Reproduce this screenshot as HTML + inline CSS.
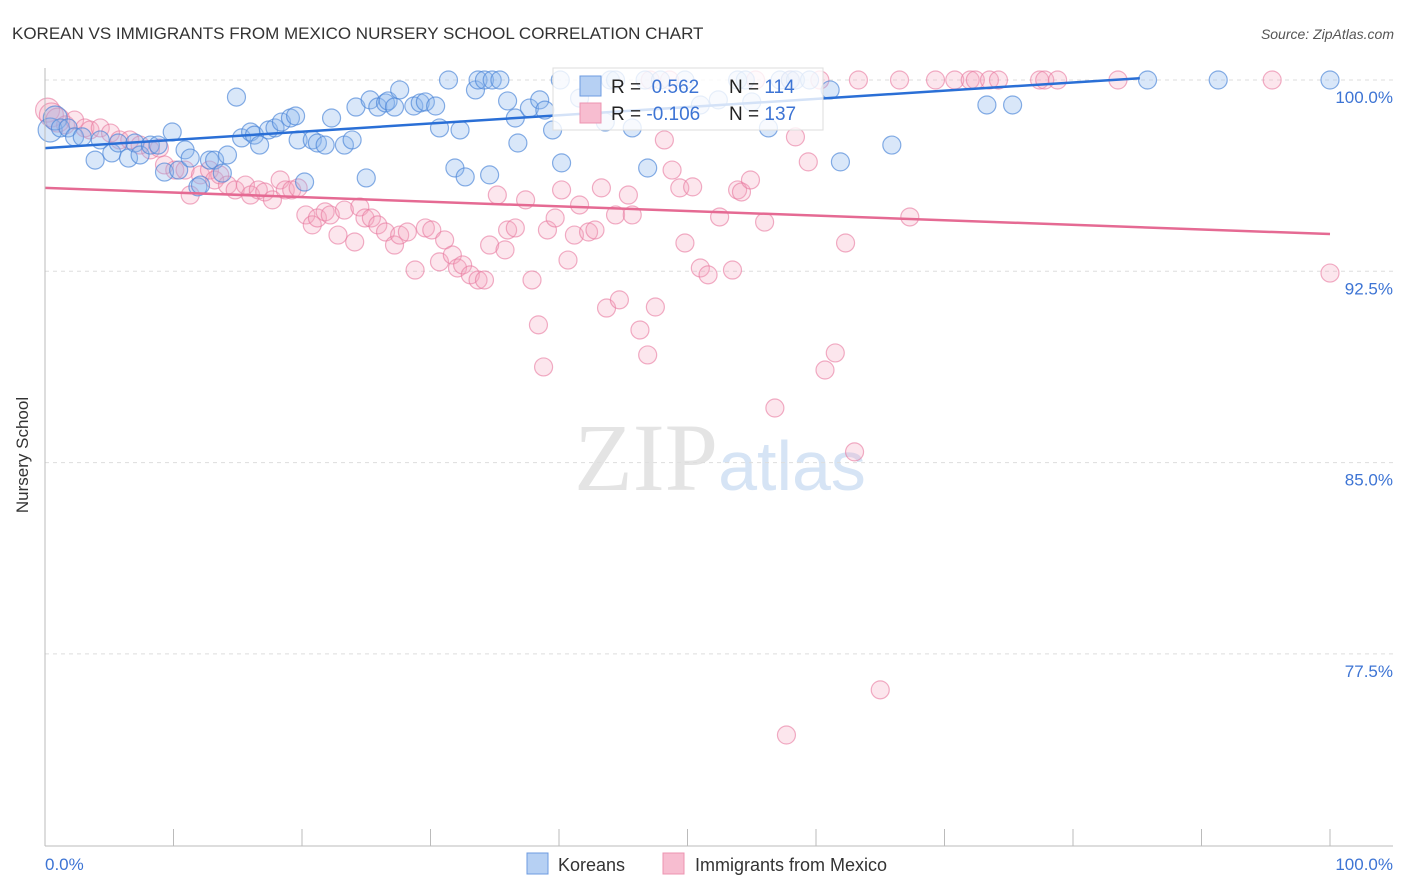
<!DOCTYPE html>
<html><head><meta charset="utf-8"><style>
body{margin:0;background:#fff;font-family:"Liberation Sans",sans-serif;}
svg{display:block}
</style></head><body>
<svg id="c" width="1406" height="892" viewBox="0 0 1406 892">
<text x="12" y="39" font-size="17" fill="#333">KOREAN VS IMMIGRANTS FROM MEXICO NURSERY SCHOOL CORRELATION CHART</text>
<text x="1394" y="39" font-size="14" fill="#555" font-style="italic" text-anchor="end">Source: ZipAtlas.com</text>
<text x="720" y="490" font-size="96" fill="#e4e4e4" text-anchor="middle" font-family="Liberation Serif">ZIP<tspan fill="#d6e4f5" font-family="Liberation Sans" font-size="70">atlas</tspan></text>
<g id="grid"></g><g id="pts"></g><g id="lines"></g>
<line x1="45" y1="68" x2="45" y2="846" stroke="#bbb"/>
<line x1="45" y1="846" x2="1393" y2="846" stroke="#bbb"/>
<text x="28" y="455" font-size="17" fill="#333" text-anchor="middle" transform="rotate(-90 28 455)">Nursery School</text>
<text x="45" y="870" font-size="17" fill="#3d74d4">0.0%</text>
<text x="1393" y="870" font-size="17" fill="#3d74d4" text-anchor="end">100.0%</text>
<g>
<rect x="553" y="68" width="270" height="62" fill="rgba(255,255,255,0.8)" stroke="#ddd"/>
<rect x="580" y="76" width="21" height="20" fill="#b6d0f3" stroke="#6d9be0"/>
<rect x="580" y="103" width="21" height="20" fill="#f7bdd0" stroke="#ec94b1"/>
<text x="611" y="93" font-size="19" fill="#222">R = <tspan fill="#3d74d4">&#160;0.562</tspan><tspan x="729">N = </tspan><tspan fill="#3d74d4">114</tspan></text>
<text x="611" y="120" font-size="19" fill="#222">R = <tspan fill="#3d74d4">-0.106</tspan><tspan x="729">N = </tspan><tspan fill="#3d74d4">137</tspan></text>
</g>
<g>
<rect x="527" y="853" width="21" height="21" fill="#b6d0f3" stroke="#6d9be0"/>
<text x="558" y="871" font-size="18" fill="#333">Koreans</text>
<rect x="663" y="853" width="21" height="21" fill="#f7bdd0" stroke="#ec94b1"/>
<text x="695" y="871" font-size="18" fill="#333">Immigrants from Mexico</text>
</g>
</svg>
<script>
const yTicks=[100,92.5,85,77.5];
const yTickLabels=["100.0%","92.5%","85.0%","77.5%"];
const koreanX=[0.4,0.8,1.2,1.8,2.3,2.9,3.9,4.3,5.2,5.7,6.5,7.0,7.4,8.2,8.8,9.3,9.9,10.4,10.9,11.3,11.9,12.1,12.8,13.2,13.8,14.2,14.9,15.3,16.0,16.3,16.7,17.4,17.9,18.4,19.1,19.5,19.7,20.2,20.8,21.2,21.8,22.3,23.3,23.9,24.2,25.0,25.3,25.9,26.5,26.7,27.2,27.6,28.7,29.2,29.6,30.4,30.7,31.4,31.9,32.3,32.7,33.5,33.7,34.2,34.6,34.8,35.4,36.0,36.6,36.8,37.7,38.5,38.9,39.5,40.1,40.2,41.6,43.6,44.0,44.4,45.7,46.7,46.9,47.9,49.8,51.0,52.4,53.9,54.5,55.0,56.3,57.2,58.0,58.4,59.5,61.1,61.9,65.9,73.3,75.3,85.8,91.3,100];
const koreanY=[98.04,98.51,98.12,98.12,97.77,97.77,96.86,97.65,97.14,97.53,96.94,97.53,97.06,97.45,97.45,96.39,97.96,96.47,97.26,96.94,95.81,95.88,96.86,96.86,96.35,97.06,99.33,97.73,97.96,97.84,97.45,98.04,98.12,98.35,98.51,98.59,97.65,96.00,97.65,97.53,97.45,98.51,97.45,97.65,98.94,96.16,99.22,98.94,99.10,99.18,98.94,99.61,98.98,99.10,99.14,98.98,98.12,100,96.55,98.04,96.20,99.61,100,100,96.28,100,100,99.18,98.51,97.53,98.90,99.22,98.82,98.04,100,96.75,99.29,98.35,100,100,98.12,100,96.55,100,100,99.02,99.22,100,100,99.14,98.12,100,100,100,100,99.61,96.79,97.45,99.02,99.02,100,100,100];
const mexicoX=[0.2,0.5,1.0,1.6,2.3,3.1,3.5,4.3,5.1,5.8,6.6,7.4,8.2,8.9,9.3,10.1,10.9,11.3,12.1,12.8,13.2,13.6,14.2,14.8,15.6,16.0,16.6,17.1,17.7,18.3,18.7,19.2,19.7,20.3,20.8,21.2,21.8,22.2,22.8,23.3,24.1,24.5,24.9,25.4,25.9,26.5,27.2,27.6,28.2,28.8,29.6,30.1,30.7,31.1,31.7,32.1,32.5,33.1,33.7,34.2,34.6,35.2,35.8,36.0,36.6,37.4,37.9,38.4,38.8,39.1,39.7,40.2,40.7,41.2,41.6,42.3,42.8,43.3,43.7,44.4,44.7,45.4,45.7,46.3,46.9,47.5,48.2,48.8,49.4,49.8,50.4,51.0,51.6,52.5,53.5,53.9,54.2,54.9,56.0,56.8,57.7,58.4,59.4,60.7,61.5,62.3,63.0,63.3,65.0,66.5,67.3,69.3,70.8,72.0,72.4,73.5,74.2,77.4,77.8,78.8,83.5,95.5,100,47.1,48.6,55.3,58.0,60.3];
const mexicoY=[98.82,98.63,98.43,98.24,98.43,98.12,98.04,98.12,97.92,97.65,97.65,97.45,97.26,97.33,96.67,96.47,96.47,95.49,96.28,96.47,96.08,96.28,95.88,95.69,95.88,95.49,95.69,95.61,95.30,96.08,95.69,95.69,95.77,94.71,94.32,94.59,94.83,94.71,93.92,94.90,93.65,95.02,94.59,94.59,94.32,94.04,93.53,93.92,94.04,92.55,94.20,94.12,92.87,93.73,93.14,92.63,92.75,92.36,92.16,92.16,93.53,95.49,93.34,94.12,94.20,95.30,92.16,90.40,88.75,94.12,94.59,95.69,92.94,93.92,95.10,94.04,94.12,95.77,91.06,94.71,91.38,95.49,94.71,90.20,89.22,91.10,97.65,96.47,95.77,93.61,95.81,92.63,92.36,94.63,92.55,95.69,95.61,96.08,94.43,87.14,74.32,97.77,96.79,88.63,89.30,93.61,85.42,100,76.09,100,94.63,100,100,100,100,100,100,100,100,100,100,100,92.43,100,100,100,100,100];
const koreanTrend=[97.33,100.07]; const koreanTrendX=[0,85.2];
const mexicoTrend=[95.77,93.96]; const mexicoTrendX=[0,100];
const NS="http://www.w3.org/2000/svg";
const sx=v=>45+v*12.85;
const sy=v=>80+(100-v)*191.3/7.5;
function mk(t,a,p){const e=document.createElementNS(NS,t);for(const k in a)e.setAttribute(k,a[k]);p.appendChild(e);return e;}
const grid=document.getElementById('grid');
yTicks.forEach((t,i)=>{
 const l=mk('line',{x1:45,x2:1393,y1:sy(t),y2:sy(t),stroke:'#ddd','stroke-dasharray':'4,4'},grid);
 
 
 const tx=mk('text',{x:1393,y:sy(t)+23,'font-size':17,fill:'#3d74d4','text-anchor':'end'},grid);
 tx.textContent=yTickLabels[i];
 
 
});
for(let i=1;i<=10;i++){
 const l=mk('line',{x1:sx(i*10),x2:sx(i*10),y1:829,y2:846,stroke:'#bbb'},grid);
 
 
}
const pts=document.getElementById('pts');
mexicoX.forEach((x,i)=>{
 const c=mk('circle',{cx:sx(x),cy:sy(mexicoY[i]),r:i<3?12:9,fill:'rgba(245,165,192,0.28)',stroke:'rgba(232,120,158,0.6)','stroke-width':1.2},pts);
 
 
});
koreanX.forEach((x,i)=>{
 const c=mk('circle',{cx:sx(x),cy:sy(koreanY[i]),r:i<2?12:9,fill:'rgba(140,182,238,0.33)',stroke:'rgba(70,130,215,0.65)','stroke-width':1.2},pts);
 
 
});
const lines=document.getElementById('lines');
const l1=mk('line',{x1:sx(koreanTrendX[0]),y1:sy(koreanTrend[0]),x2:sx(koreanTrendX[1]),y2:sy(koreanTrend[1]),stroke:'#2a6fd6','stroke-width':2.5},lines);


const l2=mk('line',{x1:sx(mexicoTrendX[0]),y1:sy(mexicoTrend[0]),x2:sx(mexicoTrendX[1]),y2:sy(mexicoTrend[1]),stroke:'#e56a93','stroke-width':2.5},lines);


</script>
</body></html>
